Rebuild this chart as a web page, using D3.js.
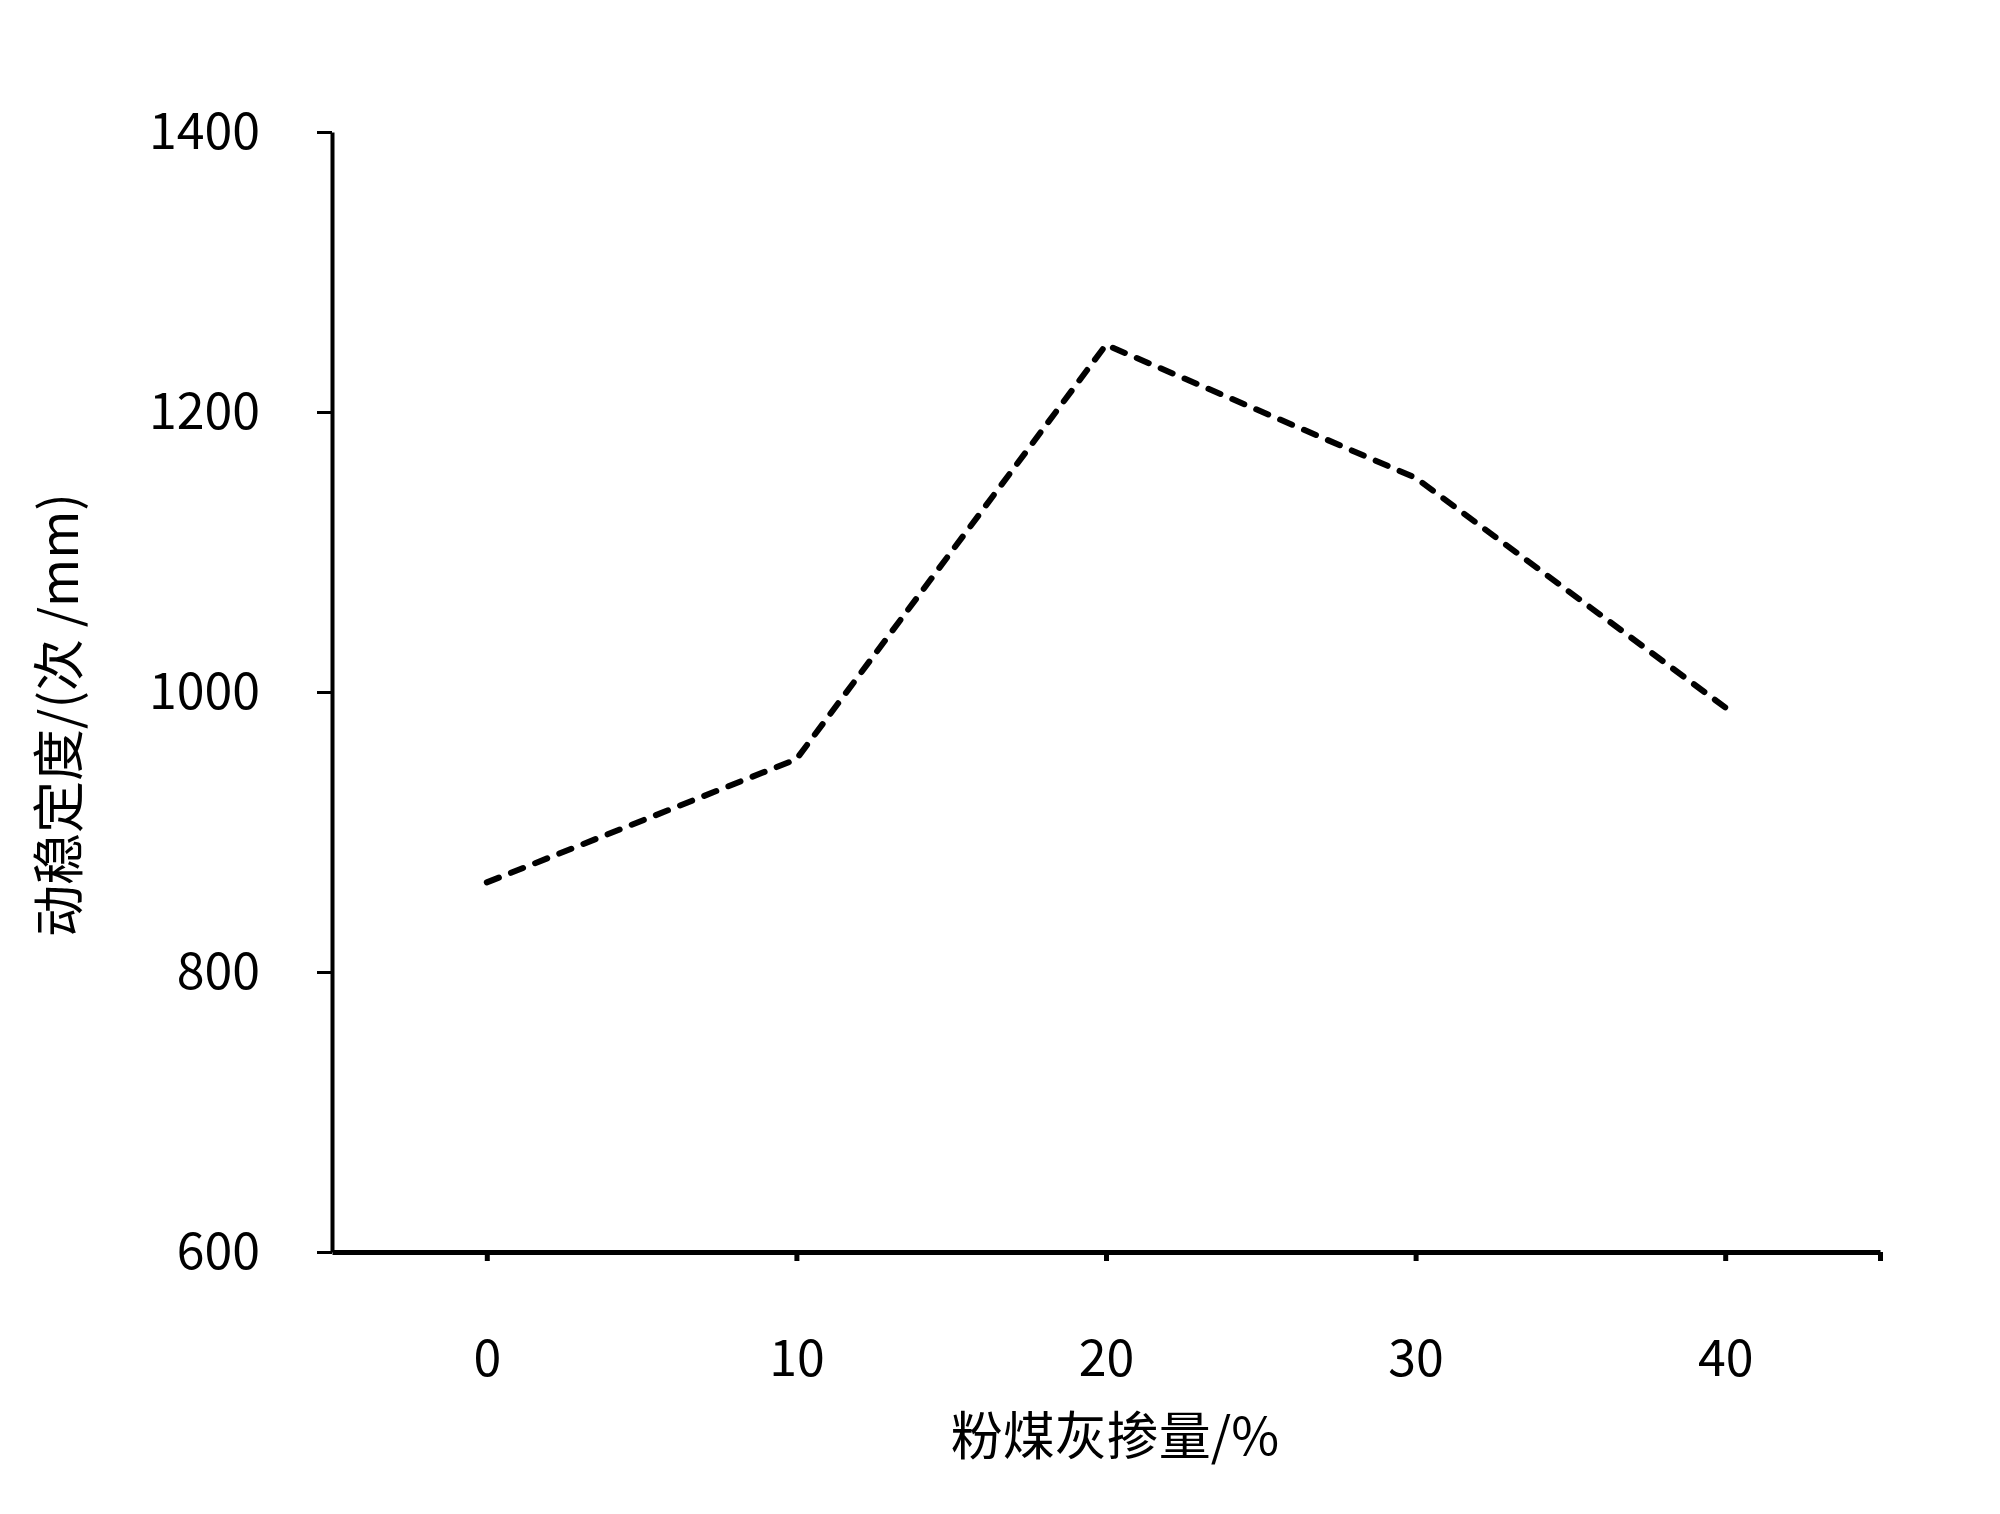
<!DOCTYPE html>
<html>
<head>
<meta charset="utf-8">
<script src="https://cdn.jsdelivr.net/npm/d3@7"></script>
<style>
  body { margin: 0; background: #fff; }
  text { font-family: "Noto Sans CJK SC", "DejaVu Sans", sans-serif; fill: #000; }
</style>
</head>
<body>
<svg width="2000" height="1514"></svg>
<script>
// data
const ashContent = [0, 10, 20, 30, 40];          // 粉煤灰掺量/%
const stability = [864, 952, 1248, 1153, 989];   // 动稳定度/(次/mm)
const yTicks = [600, 800, 1000, 1200, 1400];
const xTicks = [0, 10, 20, 30, 40, 45];

const svg = d3.select("svg");

// plot box
const plotLeft = 332, plotRight = 1880, plotTop = 132, plotBottom = 1252;

const x = d3.scaleLinear().domain([-5, 45]).range([plotLeft, plotRight]);
const y = d3.scaleLinear().domain([600, 1400]).range([plotBottom, plotTop]);

// y axis
const yAxis = svg.append("g")
  .attr("transform", "translate(" + plotLeft + ",0)")
  .call(d3.axisLeft(y).tickValues(yTicks).tickFormat(d3.format("d"))
    .tickSize(15).tickSizeOuter(0).tickPadding(57));
yAxis.select(".domain").attr("stroke-width", 4).attr("stroke", "#000");
yAxis.selectAll(".tick line").attr("stroke-width", 3).attr("stroke", "#000");
yAxis.selectAll(".tick text").attr("font-size", 50).attr("font-family", null);

// x axis
const xAxis = svg.append("g")
  .attr("transform", "translate(0," + plotBottom + ")")
  .call(d3.axisBottom(x).tickValues(xTicks)
    .tickFormat(d => d === 45 ? "" : d)
    .tickSize(9).tickSizeOuter(0).tickPadding(79));
xAxis.select(".domain").attr("stroke-width", 5).attr("stroke", "#000");
xAxis.selectAll(".tick line").attr("stroke-width", 5).attr("stroke", "#000");
xAxis.selectAll(".tick text").attr("font-size", 50).attr("font-family", null);

// dashed series line
const line = d3.line()
  .x((d, i) => x(ashContent[i]))
  .y(d => y(d));

svg.append("path")
  .datum(stability)
  .attr("d", line)
  .attr("fill", "none")
  .attr("stroke", "#000")
  .attr("stroke-width", 6)
  .attr("stroke-linecap", "round")
  .attr("stroke-linejoin", "miter")
  .attr("stroke-dasharray", "13,13");

// axis titles
svg.append("text")
  .attr("x", 1115)
  .attr("y", 1437)
  .attr("dy", "0.35em")
  .attr("text-anchor", "middle")
  .attr("font-size", 52)
  .text("粉煤灰掺量/%");

svg.append("text")
  .attr("transform", "translate(60,715) rotate(-90)")
  .attr("dy", "0.35em")
  .attr("text-anchor", "middle")
  .attr("font-size", 52)
  .text("动稳定度/(次 /mm)");
</script>
</body>
</html>
